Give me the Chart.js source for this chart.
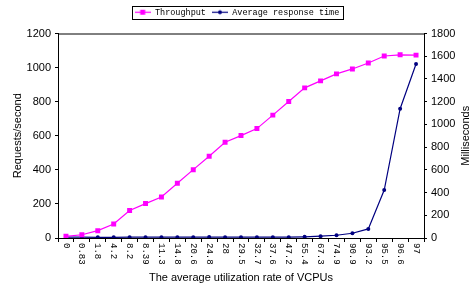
<!DOCTYPE html>
<html>
<head>
<meta charset="utf-8">
<script src="https://cdn.jsdelivr.net/npm/chart.js@4/dist/chart.umd.min.js"></script>
<style>
  html, body { margin: 0; padding: 0; background: #fff; }
  #wrap { width: 474px; height: 288px; }
</style>
</head>
<body>
<div id="wrap"><canvas id="chart" width="474" height="288"></canvas></div>
<script>
// Dane
const categories = ['0', '0.83', '1.8', '4.2', '8.2', '8.39', '11.3', '14.8', '20.6', '24.8', '28',
    '29.5', '32.7', '37.6', '47.2', '55.4', '67.3', '74.9', '90.9', '93.2', '95.5', '96.6', '97'];
const throughput = [10, 19, 43, 82, 161, 202, 241, 321, 401, 480, 562,
    601, 642, 721, 801, 881, 922, 963, 992, 1027, 1068, 1075, 1073];
const responseTime = [8, 8, 6, 6, 7, 7, 7, 7, 7, 8, 7,
    7, 7, 7, 7, 10, 16, 24, 42, 80, 422, 1138, 1532];
const leftTicks = [0, 200, 400, 600, 800, 1000, 1200];
const rightTicks = [0, 200, 400, 600, 800, 1000, 1200, 1400, 1600, 1800];

const PINK = '#ff00ff';
const NAVY = '#000080';

// Probka do legendy: linia + znacznik
function legendSample(color, square) {
    const c = document.createElement('canvas');
    c.width = 16; c.height = 7;
    const g = c.getContext('2d');
    g.strokeStyle = color;
    g.lineWidth = 1.2;
    g.beginPath(); g.moveTo(0, 3.5); g.lineTo(16, 3.5); g.stroke();
    g.fillStyle = color;
    if (square) {
        g.fillRect(5.5, 1, 5, 5);
    } else {
        g.beginPath(); g.arc(8, 3.5, 2, 0, Math.PI * 2); g.fill();
    }
    return c;
}

// Dodatkowy odstep pod legenda
const legendGap = {
    id: 'legendGap',
    beforeInit(chart) {
        const fit = chart.legend.fit;
        chart.legend.fit = function () {
            fit.call(this);
            this.height += 7;
        };
    }
};

const extras = {
    id: 'extras',
    afterDraw(chart) {
        const ctx = chart.ctx;
        const area = chart.chartArea;
        ctx.save();
        // ramka obszaru wykresu (gora)
        ctx.strokeStyle = '#000';
        ctx.lineWidth = 1;
        ctx.beginPath();
        ctx.moveTo(area.left, area.top + 0.5);
        ctx.lineTo(area.right, area.top + 0.5);
        ctx.stroke();

        // ramka legendy
        const boxes = chart.legend.legendHitBoxes;
        if (boxes && boxes.length) {
            const first = boxes[0], last = boxes[boxes.length - 1];
            const x0 = first.left - 3;
            const x1 = last.left + last.width + 3;
            const y0 = first.top - 2;
            const y1 = first.top + first.height + 2;
            ctx.strokeRect(Math.round(x0) + 0.5, Math.round(y0) + 0.5, Math.round(x1 - x0), Math.round(y1 - y0));
        }

        // etykiety osi X pionowo (z gory na dol)
        const xs = chart.scales.x;
        ctx.fillStyle = '#000';
        ctx.font = '9px "Liberation Mono"';
        ctx.textAlign = 'left';
        ctx.textBaseline = 'middle';
        categories.forEach((lab, i) => {
            const px = xs.getPixelForValue(i);
            ctx.save();
            ctx.translate(px, area.bottom + 5);
            ctx.rotate(Math.PI / 2);
            ctx.fillText(lab, 0, 0);
            ctx.restore();
        });

        // tytul prawej osi
        ctx.font = '11px "Liberation Sans"';
        ctx.textAlign = 'center';
        ctx.save();
        ctx.translate(466, (area.top + area.bottom) / 2);
        ctx.rotate(-Math.PI / 2);
        ctx.fillText('Milliseconds', 0, 0);
        ctx.restore();
        ctx.restore();
    }
};

new Chart(document.getElementById('chart').getContext('2d'), {
    type: 'line',
    data: {
        labels: categories,
        datasets: [{
            label: 'Throughput',
            data: throughput,
            yAxisID: 'y',
            borderColor: PINK,
            backgroundColor: PINK,
            borderWidth: 1.2,
            pointStyle: 'rect',
            pointRadius: 3.5,
            pointBorderWidth: 0,
            tension: 0
        }, {
            label: 'Average response time',
            data: responseTime,
            yAxisID: 'y1',
            borderColor: NAVY,
            backgroundColor: NAVY,
            borderWidth: 1.2,
            pointStyle: 'circle',
            pointRadius: 2,
            pointBorderWidth: 0,
            tension: 0
        }]
    },
    options: {
        responsive: false,
        animation: false,
        layout: { padding: { top: 2, left: 0, right: 0, bottom: 0 } },
        plugins: {
            tooltip: { enabled: false },
            legend: {
                position: 'top',
                labels: {
                    usePointStyle: true,
                    pointStyleWidth: 16,
                    padding: 6,
                    color: '#000',
                    font: { family: '"Liberation Mono"', size: 8.5 },
                    generateLabels(chart) {
                        return chart.data.datasets.map((ds, i) => ({
                            text: ds.label,
                            pointStyle: legendSample(ds.borderColor, i === 0),
                            fillStyle: ds.borderColor,
                            strokeStyle: ds.borderColor,
                            lineWidth: 0,
                            hidden: false,
                            datasetIndex: i,
                            fontColor: '#000'
                        }));
                    }
                }
            }
        },
        scales: {
            x: {
                offset: true,
                grid: { display: true, drawOnChartArea: false, drawTicks: true, tickLength: 4, color: '#000', offset: true },
                border: { color: '#000' },
                ticks: { autoSkip: false, minRotation: 90, maxRotation: 90, color: 'rgba(0,0,0,0)', font: { size: 9 } },
                title: {
                    display: true,
                    text: 'The average utilization rate of VCPUs',
                    color: '#000',
                    font: { family: '"Liberation Sans"', size: 11 },
                    padding: { top: 0, bottom: 3 }
                },
                afterFit(scale) { scale.height = 50; }
            },
            y: {
                position: 'left',
                min: 0, max: 1200,
                afterBuildTicks(scale) { scale.ticks = leftTicks.map(v => ({ value: v })); },
                grid: { drawOnChartArea: false, drawTicks: true, tickLength: 3, color: '#000' },
                border: { color: '#000' },
                ticks: {
                    color: '#000', padding: 4,
                    font: { family: '"Liberation Sans"', size: 11 },
                    callback: v => String(v)
                },
                title: {
                    display: true,
                    text: 'Requests/second',
                    color: '#000',
                    font: { family: '"Liberation Sans"', size: 11 },
                    padding: { top: 11, bottom: 0 }
                },
                afterFit(scale) { scale.width = 58; }
            },
            y1: {
                position: 'right',
                min: 0, max: 1800,
                afterBuildTicks(scale) { scale.ticks = rightTicks.map(v => ({ value: v })); },
                grid: { drawOnChartArea: false, drawTicks: true, tickLength: 3, color: '#000' },
                border: { color: '#000' },
                ticks: {
                    color: '#000', padding: 4,
                    font: { family: '"Liberation Sans"', size: 11 },
                    callback: v => String(v)
                },
                afterFit(scale) { scale.width = 50; }
            }
        }
    },
    plugins: [legendGap, extras]
});
</script>
</body>
</html>
